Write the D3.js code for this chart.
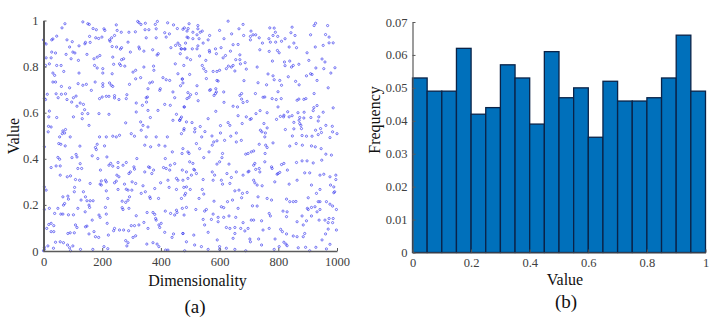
<!DOCTYPE html>
<html>
<head>
<meta charset="utf-8">
<script src="https://cdn.jsdelivr.net/npm/d3@7"></script>
<style>
  html, body { margin: 0; padding: 0; background: #fff; }
  text { font-family: "Liberation Serif", serif; }
</style>
</head>
<body>
<div id="chart"></div>
<script>
// left panel: [dimension, value]
var samples = [
[63,.968],[73,.986],[134,.994],[151,.986],[156,.983],[169,.965],[180,.96],[206,.964],[209,.957],[248,.981],[251,.957],[265,.949],[291,.949],[313,.951],[321,.996],[325,.991],[332,.983],[347,.988],[346,.96],[359,.96],[381,.983],[388,.996],[384,.964],[413,.947],[429,.942],[423,.99],[443,.981],[456,.965],[475,.962],[493,.965],
[0,.916],[3,.902],[9,.898],[28,.916],[32,.92],[45,.932],[80,.916],[98,.908],[89,.885],[121,.89],[141,.899],[143,.905],[159,.905],[157,.931],[178,.925],[188,.922],[199,.928],[225,.916],[232,.925],[227,.91],[242,.935],[249,.885],[234,.887],[262,.876],[266,.882],[288,.906],[296,.863],[325,.885],[327,.877],[342,.867],[372,.873],[350,.925],[384,.925],[391,.856],[387,.85],[418,.928],[434,.882],[458,.902],[470,.877],[482,.876],[450,.892],[493,.925],
[28,.863],[41,.859],[77,.853],[100,.863],[107,.859],[148,.853],[94,.834],[119,.827],[172,.834],[183,.841],[192,.848],[9,.838],[26,.838],[20,.812],[7,.805],[60,.805],[45,.805],[174,.805],[183,.794],[202,.791],[236,.841],[239,.81],[259,.812],[266,.83],[273,.834],[277,.802],[263,.805],[305,.776],[314,.784],[342,.798],[375,.802],[376,.784],[449,.812],[478,.805],[32,.772],[38,.762],[69,.779],[121,.772],[202,.772],[234,.769],[32,.733],[41,.733],[61,.714],[89,.708],[118,.726],[134,.719],[146,.723],[163,.697],[176,.733],[202,.726],[202,.714],[225,.729],[231,.719],[236,.714],[293,.723],[314,.747],[331,.752],[356,.704],[362,.729],[371,.733],[398,.704],[407,.752],[418,.743],[430,.74],[458,.769],[473,.747],[475,.729],
[43,.682],[13,.68],[61,.68],[50,.665],[80,.657],[111,.672],[102,.665],[96,.646],[75,.682],[125,.642],[136,.636],[140,.613],[114,.628],[191,.661],[200,.668],[214,.671],[223,.671],[242,.674],[242,.664],[257,.657],[282,.661],[284,.678],[316,.642],[337,.632],[350,.665],[354,.668],[351,.646],[316,.603],[356,.61],[390,.61],[413,.636],[396,.697],[441,.69],[432,.632],[447,.665],[479,.625],[489,.661],[441,.567],[453,.593],[470,.581],[464,.567],[20,.607],[18,.582],[45,.579],[102,.582],[7,.657],[3,.661],[132,.596],[151,.596],[132,.574],[189,.596],[223,.593],[155,.545],[280,.556],[331,.56],[339,.545],[356,.538],[364,.579],[17,.541],[26,.538],[16,.517],[66,.521],[75,.527],[72,.512],[64,.509],[55,.495],[91,.495],[191,.495],[214,.495],[236,.498],[248,.495],[259,.502],[299,.509],[333,.524],[310,.498],[350,.495],[384,.495],[422,.495],[470,.509],[479,.531],[487,.56],
[480,.968],[496,.986],[526,.978],[526,.964],[509,.949],[489,.954],[534,.949],[541,.954],[566,.935],[523,.938],[489,.928],[509,.921],[530,.921],[561,.916],[544,.902],[526,.89],[484,.902],[464,.892],[600,.957],[615,.921],[641,.942],[629,.997],[680,.983],[666,.964],[682,.935],[707,.954],[705,.931],[714,.938],[723,.938],[735,.925],[705,.916],[771,.968],[786,.967],[790,.949],[782,.935],[768,.921],[798,.931],[791,.906],[811,.91],[773,.906],[746,.902],[847,.971],[843,.947],[857,.935],[823,.921],[853,.902],[837,.885],[862,.882],[910,.938],[927,.988],[922,.978],[968,.978],[961,.939],[973,.928],[973,.903],[987,.903],[953,.892],[926,.885],[898,.86],
[663,.896],[646,.895],[605,.882],[586,.877],[565,.87],[566,.863],[523,.877],[507,.877],[489,.838],[501,.83],[469,.877],[481,.877],[466,.856],[532,.846],[553,.827],[589,.856],[620,.848],[612,.838],[637,.867],[669,.851],[655,.83],[669,.83],[671,.812],[687,.817],[737,.873],[769,.866],[797,.87],[803,.86],[780,.824],[839,.824],[821,.82],[823,.804],[845,.798],[851,.805],[870,.81],[904,.827],[949,.833],[959,.82],[955,.791],[928,.794],[993,.795],[979,.772],
[541,.805],[546,.791],[553,.779],[578,.779],[591,.779],[600,.784],[623,.791],[630,.802],[640,.798],[646,.805],[652,.781],[691,.789],[728,.798],[498,.766],[473,.745],[555,.748],[591,.74],[595,.737],[683,.739],[731,.73],[765,.768],[782,.76],[786,.743],[805,.74],[834,.756],[859,.736],[871,.721],[896,.76],[910,.769],[915,.766],[932,.74],[760,.721],[811,.719],[970,.708],[467,.717],[523,.717],[566,.697],[569,.7],[587,.704],[589,.69],[614,.69],[675,.683],[669,.675],[722,.683],[799,.691],[922,.683],[492,.687],[501,.678],[521,.683],[496,.667],[581,.675],[586,.683],[748,.667],[754,.668],[779,.661],[793,.657],[810,.661],[864,.654],[870,.659],[887,.658],[894,.661],[527,.652],[615,.645],[675,.659],[694,.649],[680,.644],[646,.628],[661,.625],[480,.625],[587,.606],[799,.625],[932,.631],[921,.622],[919,.609],[987,.621],[953,.602],[832,.604],[847,.587],[867,.6],[888,.602],[762,.6],[738,.609],[724,.596],[663,.587],[561,.574],[691,.582],[708,.574],[704,.571],[794,.571],[807,.584],[818,.582],[819,.589],[837,.582],[873,.579],[871,.567],[887,.577],[911,.579],[938,.582],[936,.564],[467,.574],[464,.567],[506,.557],[629,.557],[635,.545],[677,.553],[751,.553],[853,.558],[873,.553],[877,.545],[534,.54],[603,.544],[962,.545],[984,.541],[944,.531],[516,.531],[515,.517],[478,.524],[550,.518],[603,.512],[657,.512],[739,.524],[744,.517],[762,.534],[756,.512],[824,.527],[853,.53],[879,.531],[927,.524],[1000,.509],[985,.517],[947,.514],[936,.505],[896,.498],[915,.498],[881,.501],[539,.495],[574,.499],[638,.498],[754,.495],[976,.492],[848,.499],
[3,.452],[52,.466],[59,.463],[74,.456],[124,.455],[183,.463],[177,.449],[180,.44],[208,.456],[166,.413],[216,.408],[185,.401],[49,.406],[55,.398],[97,.405],[111,.419],[114,.408],[125,.379],[130,.358],[117,.358],[26,.362],[43,.369],[57,.369],[57,.329],[81,.322],[92,.326],[109,.31],[123,.307],[159,.293],[136,.257],[106,.276],[105,.257],[3,.278],[9,.264],[194,.351],[223,.372],[229,.38],[236,.368],[254,.384],[254,.362],[271,.372],[282,.384],[308,.365],[310,.355],[296,.343],[291,.336],[318,.401],[250,.329],[257,.322],[248,.303],[242,.296],[197,.304],[211,.307],[214,.3],[197,.286],[214,.261],[193,.29],[276,.29],[282,.268],[288,.264],[254,.267],[302,.3],[314,.293],[301,.264],[339,.283],[333,.25],[347,.257],[362,.235],[293,.235],[288,.22],[268,.216],[280,.211],[268,.188],[271,.18],[291,.185],
[143,.235],[66,.235],[83,.238],[85,.225],[72,.206],[68,.199],[128,.221],[148,.218],[159,.218],[169,.218],[219,.228],[155,.199],[142,.17],[157,.189],[20,.185],[49,.185],[3,.18],[38,.163],[59,.16],[66,.16],[85,.157],[102,.157],[117,.185],[211,.189],[189,.156],[193,.146],[214,.16],[166,.134],[18,.115],[26,.12],[35,.11],[11,.098],[109,.113],[114,.102],[143,.105],[148,.108],[217,.12],[242,.098],[239,.088],[259,.091],[273,.091],[290,.088],[299,.11],[310,.11],[325,.113],[316,.153],[342,.124],[353,.167],[373,.167],[379,.159],[382,.141],[384,.134],[393,.113],[401,.12],[396,.102],[356,.098],[415,.173],[453,.177],[455,.167],[473,.185],[487,.189],[433,.163],[447,.156],[479,.156],
[26,.084],[35,.084],[83,.076],[91,.079],[105,.079],[155,.074],[172,.084],[177,.062],[188,.059],[221,.069],[280,.045],[288,.036],[284,.022],[305,.059],[314,.066],[352,.03],[373,.036],[387,.03],[393,.019],[413,.081],[438,.059],[443,.074],[475,.076],[487,.04],[3,.016],[15,.022],[34,.012],[41,.038],[57,.04],[68,.036],[82,.026],[100,.022],[89,.014],[92,.001],[126,.007],[168,.007],[206,.019],[219,.01],[416,.004],[424,.004],[3,.007],[0,.001],
[358,.365],[362,.362],[375,.351],[345,.343],[369,.336],[399,.296],[424,.307],[418,.358],[409,.362],[432,.372],[447,.379],[430,.351],[415,.401],[414,.455],[393,.459],[365,.452],[345,.459],[439,.43],[472,.423],[492,.43],[453,.315],[458,.307],[475,.307],[453,.267],[428,.276],[478,.276],[481,.242],[492,.315],[379,.271],[364,.228],[392,.228],
[521,.466],[532,.444],[575,.459],[580,.473],[591,.478],[617,.48],[657,.473],[674,.48],[735,.463],[757,.459],[762,.449],[782,.469],[839,.455],[861,.466],[882,.459],[913,.456],[926,.452],[946,.444],[962,.42],[981,.416],[948,.394],
[475,.444],[496,.423],[546,.405],[564,.43],[610,.423],[608,.405],[600,.387],[591,.377],[632,.377],[689,.42],[697,.423],[708,.43],[716,.434],[755,.423],[720,.38],[716,.372],[754,.387],[723,.354],[735,.358],[737,.343],[777,.365],[779,.358],[811,.375],[819,.38],[831,.351],[799,.336],[805,.341],[796,.333],[862,.384],[881,.391],[898,.391],[919,.382],[890,.339],[907,.339],[955,.333],[942,.329],[996,.329],[996,.31],[976,.322],
[498,.387],[509,.38],[512,.354],[515,.351],[504,.329],[487,.343],[473,.351],[521,.336],[544,.31],[575,.343],[583,.329],[578,.307],[606,.307],[625,.336],[640,.319],[657,.343],[680,.329],[697,.343],[700,.346],[716,.307],[720,.296],[728,.286],[745,.283],[788,.3],[837,.29],[864,.307],[913,.286],[942,.267],[978,.286],[989,.278],[992,.257],[989,.253],[930,.25],[487,.278],[500,.267],[541,.267],[546,.247],[530,.228],[610,.29],[635,.293],[652,.261],[666,.264],[678,.25],[675,.231],[694,.254],[644,.221],[731,.235],[762,.228],[777,.221],[581,.216],[484,.25],[470,.228],[627,.214],[828,.225],[839,.214],[851,.214],[860,.215],[902,.231],[936,.214],[942,.214],[964,.214],[976,.203],[985,.195],[998,.18],
[519,.18],[549,.173],[555,.18],[606,.192],[614,.188],[663,.185],[712,.196],[728,.195],[578,.16],[544,.137],[572,.137],[595,.146],[595,.127],[614,.146],[632,.152],[655,.146],[680,.123],[708,.134],[716,.134],[743,.131],[769,.163],[773,.152],[816,.173],[830,.17],[828,.149],[902,.18],[899,.185],[913,.189],[925,.192],[942,.18],[932,.17],[913,.152],[881,.152],[864,.127],[896,.131],[939,.134],[959,.134],[973,.141],[987,.141],[970,.123],[985,.123],[885,.113],[549,.113],[623,.102],[635,.098],[652,.102],[672,.098],[686,.087],[697,.098],[748,.091],[769,.098],[808,.094],[814,.084],[828,.074],[970,.095],[998,.091],[475,.076],[512,.069],[561,.081],[592,.048],[646,.055],[652,.076],[703,.052],[705,.04],[733,.052],[743,.026],[789,.052],[819,.038],[826,.03],[830,.023],[851,.065],[864,.062],[890,.076],[885,.062],[949,.048],[961,.074],[976,.029],[600,.019],[538,.019],[561,.007],[623,.012],[652,.007],[689,.001],[786,.007],[803,.019],[868,.014],[893,.016],[928,.016],[964,.009],[907,.001],[481,.001],[515,.026],[600,.007]
];

// right panel: 20 bins of width 0.05
var binStarts = [0,.05,.1,.15,.2,.25,.3,.35,.4,.45,.5,.55,.6,.65,.7,.75,.8,.85,.9,.95];
var frequencies = [.053,.049,.049,.062,.042,.044,.057,.053,.039,.061,.047,.05,.035,.052,.046,.046,.047,.053,.066,.049];
var binWidth = 0.05;

// tick labels
var leftXTicks = [0,200,400,600,800,1000];
var leftYTicks = [0,.2,.4,.6,.8,1];
var rightXTicks = [0,.2,.4,.6,.8,1];
var rightYTicks = [0,.01,.02,.03,.04,.05,.06,.07];

var svg = d3.select("#chart").append("svg")
  .attr("width", 724)
  .attr("height", 324);

var axisColor = "#5a5a5a";
var tickText = "#404040";

function styleAxis(g, lineWidth) {
  g.selectAll("text")
    .attr("font-family", "Liberation Serif")
    .attr("font-size", "12.5px")
    .attr("fill", tickText);
  g.selectAll("path").attr("stroke", axisColor).attr("stroke-width", lineWidth);
  g.selectAll("line").attr("stroke", axisColor).attr("stroke-width", 1);
}

// ---- (a) scatter ----
var xLeft = d3.scaleLinear().domain([0, 1000]).range([43.5, 337]);
var yLeft = d3.scaleLinear().domain([0, 1]).range([251, 20.5]);

svg.append("g").selectAll("circle")
  .data(samples)
  .enter()
  .append("circle")
  .attr("cx", d => xLeft(d[0]))
  .attr("cy", d => yLeft(d[1]))
  .attr("r", 1.1)
  .attr("fill", "none")
  .attr("stroke", "#4040ee")
  .attr("stroke-width", 0.7);

svg.append("g")
  .attr("transform", "translate(0,251)")
  .call(d3.axisBottom(xLeft).tickValues(leftXTicks).tickFormat(d3.format("d"))
    .tickSizeInner(-3).tickSizeOuter(0).tickPadding(6))
  .call(styleAxis, 1.6);

svg.append("g")
  .attr("transform", "translate(43.5,0)")
  .call(d3.axisLeft(yLeft).tickValues(leftYTicks).tickFormat(d3.format("~g"))
    .tickSizeInner(-3).tickSizeOuter(0).tickPadding(5))
  .call(styleAxis, 2);

svg.append("text")
  .attr("x", 197.5).attr("y", 286)
  .attr("text-anchor", "middle")
  .attr("font-size", "16px")
  .attr("fill", "#111")
  .text("Dimensionality");

svg.append("text")
  .attr("transform", "translate(19,136) rotate(-90)")
  .attr("text-anchor", "middle")
  .attr("font-size", "16px")
  .attr("fill", "#111")
  .text("Value");

svg.append("text")
  .attr("x", 195).attr("y", 312.5)
  .attr("text-anchor", "middle")
  .attr("font-size", "19px")
  .attr("fill", "#111")
  .text("(a)");

// ---- (b) histogram ----
var xRight = d3.scaleLinear().domain([0, 1]).range([412.5, 705.5]);
var yRight = d3.scaleLinear().domain([0, 0.07]).range([252.5, 22]);

svg.append("g").selectAll("rect")
  .data(frequencies)
  .enter()
  .append("rect")
  .attr("x", (d, i) => xRight(binStarts[i]))
  .attr("y", d => yRight(d))
  .attr("width", (d, i) => xRight(binStarts[i] + binWidth) - xRight(binStarts[i]))
  .attr("height", d => yRight(0) - yRight(d))
  .attr("fill", "#0070bb")
  .attr("stroke", "#0a2348")
  .attr("stroke-width", 1.3);

svg.append("g")
  .attr("transform", "translate(0,252.5)")
  .call(d3.axisBottom(xRight).tickValues(rightXTicks).tickFormat(d3.format("~g"))
    .tickSizeInner(-3).tickSizeOuter(0).tickPadding(6))
  .call(styleAxis, 1.2);

svg.append("g")
  .attr("transform", "translate(412.5,0)")
  .call(d3.axisLeft(yRight).tickValues(rightYTicks).tickFormat(d3.format("~g"))
    .tickSizeInner(-3).tickSizeOuter(0).tickPadding(5))
  .call(styleAxis, 1.2);

svg.append("text")
  .attr("x", 565).attr("y", 285)
  .attr("text-anchor", "middle")
  .attr("font-size", "16px")
  .attr("fill", "#111")
  .text("Value");

svg.append("text")
  .attr("transform", "translate(380,120) rotate(-90)")
  .attr("text-anchor", "middle")
  .attr("font-size", "16px")
  .attr("fill", "#111")
  .text("Frequency");

svg.append("text")
  .attr("x", 566).attr("y", 308)
  .attr("text-anchor", "middle")
  .attr("font-size", "19px")
  .attr("fill", "#111")
  .text("(b)");
</script>
</body>
</html>
